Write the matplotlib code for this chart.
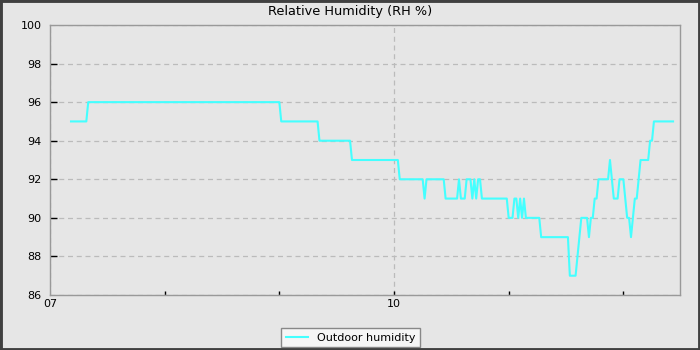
import matplotlib.pyplot as plt
from matplotlib.patches import Rectangle
from matplotlib.ticker import FixedLocator, FuncFormatter

# readings (time of day, RH %)
times = ["07:11", "07:19", "07:20", "09:00", "09:01", "09:20", "09:21", "09:37", "09:38",
         "10:02", "10:03", "10:15", "10:16", "10:17", "10:26", "10:27", "10:33", "10:34",
         "10:35", "10:37", "10:38", "10:40", "10:41", "10:42", "10:43", "10:44", "10:45",
         "10:46", "10:59", "11:00", "11:02", "11:03", "11:04", "11:05", "11:06", "11:07",
         "11:08", "11:09", "11:16", "11:17", "11:31", "11:32", "11:35", "11:36", "11:37",
         "11:38", "11:41", "11:42", "11:43", "11:44", "11:45", "11:46", "11:47", "11:51",
         "11:52", "11:53", "11:54", "11:55", "11:57", "11:58", "12:00", "12:01", "12:02",
         "12:03", "12:04", "12:05", "12:06", "12:07", "12:08", "12:09", "12:13", "12:14",
         "12:15", "12:16", "12:26"]
humidity = [95, 95, 96, 96, 95, 95, 94, 94, 93,
            93, 92, 92, 91, 92, 92, 91, 91, 92,
            91, 91, 92, 92, 91, 92, 91, 92, 92,
            91, 91, 90, 90, 91, 91, 90, 91, 90,
            91, 90, 90, 89, 89, 87, 87, 88, 89,
            90, 90, 89, 90, 90, 91, 91, 92, 92,
            92, 93, 92, 91, 91, 92, 92, 91, 90,
            90, 89, 90, 91, 91, 92, 93, 93, 94,
            94, 95, 95]

hours = [int(t[:2]) + int(t[3:]) / 60 for t in times]

bg = "#e6e6e6"
fig = plt.figure(figsize=(7, 3.5), dpi=100, facecolor=bg)
ax = fig.add_axes([50 / 700, 1 - 295 / 350, 630 / 700, 270 / 350], facecolor=bg)

ax.plot(hours, humidity, color="#44ffff", lw=1.5, label="Outdoor humidity")

ax.set_xlim(7, 7 + 630 / 114.67)
ax.set_ylim(86, 100)
ax.set_yticks(range(86, 101, 2))
ax.xaxis.set_major_locator(FixedLocator([7, 10]))
ax.xaxis.set_minor_locator(FixedLocator([8, 9, 11, 12]))
ax.xaxis.set_major_formatter(FuncFormatter(lambda v, p: f"{int(round(v)):02d}"))

ax.tick_params(axis="both", which="both", direction="in", color="black",
               labelsize=8, width=1)
ax.tick_params(axis="y", length=5, pad=6)
ax.tick_params(axis="x", length=3, pad=3)
ax.tick_params(axis="x", which="minor", length=3)

# no tick marks on the corners
for t in (ax.yaxis.get_major_ticks()[0], ax.yaxis.get_major_ticks()[-1],
          ax.xaxis.get_major_ticks()[0]):
    t.tick1line.set_visible(False)

ax.grid(True, which="major", color="#bbbbbb", ls="--", lw=0.9, dashes=(4, 3))
for s in ax.spines.values():
    s.set_color("#999999")
    s.set_linewidth(1)

fig.suptitle("Relative Humidity (RH %)", y=1 - 12 / 350, va="center", fontsize=9.3)

leg = fig.legend(loc="lower center", bbox_to_anchor=(0.5007, 3 / 350),
                 borderaxespad=0, fontsize=8, fancybox=False,
                 handlelength=2, framealpha=1)
leg.get_frame().set_facecolor("#f5f5f5")
leg.get_frame().set_edgecolor("#888888")

# dark frame around the image
fig.patches.append(Rectangle((0, 0), 1, 1, transform=fig.transFigure, fill=False,
                             edgecolor="#404040", lw=3.5, zorder=10))

fig.savefig("out.png", dpi=100, facecolor=bg)
